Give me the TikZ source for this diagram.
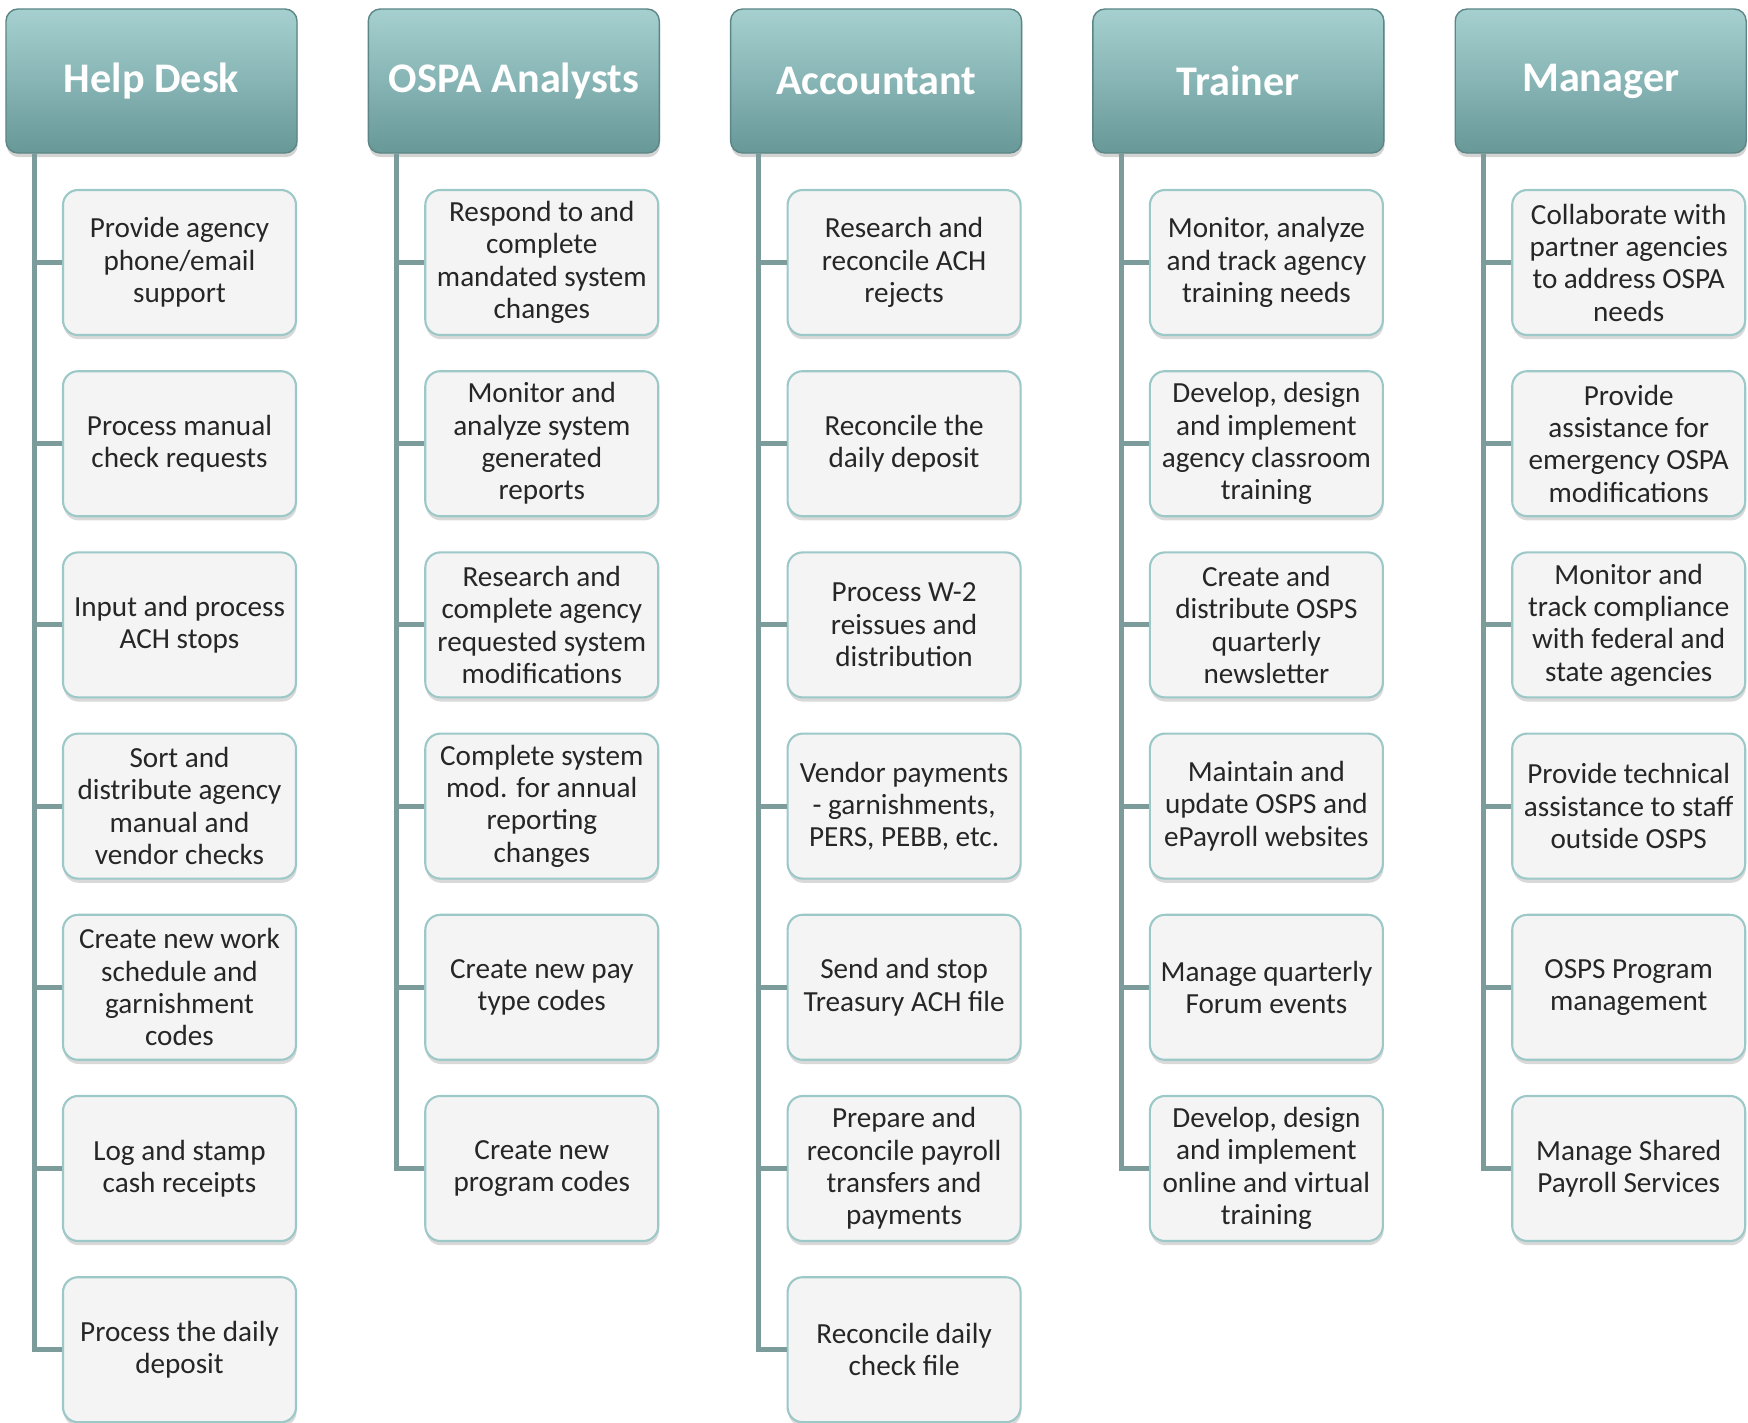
\documentclass[tikz,border=0pt]{standalone}
\usepackage{fontspec}
\setmainfont{Carlito}
\usetikzlibrary{shadows}

\definecolor{headtop}{RGB}{166,208,208}
\definecolor{headbot}{RGB}{104,152,152}
\definecolor{headline}{RGB}{92,134,134}
\definecolor{boxfill}{RGB}{244,244,244}
\definecolor{boxline}{RGB}{156,200,200}
\definecolor{branchcol}{RGB}{124,155,155}
\definecolor{txt}{RGB}{38,38,38}

\begin{document}
\begin{tikzpicture}[
            node distance = 1.812cm, % distance between task boxes
            semithick % line style
        ]

        \tikzstyle{header}=[
            draw = headline,
            thin,
            rounded corners = 1.2mm,
            top color = headtop,
            bottom color = headbot,
            minimum width = 2.91cm,
            minimum height = 1.44cm,
            text = white,
            font = \fontsize{12}{14}\selectfont\bfseries,
            drop shadow = {shadow xshift=0.2pt, shadow yshift=-1.2pt, opacity=0.35}
        ]

        \tikzstyle{task}=[
            draw = boxline,
            rounded corners = 1.5mm,
            fill = boxfill,
            minimum width = 2.33cm,
            minimum height = 1.45cm,
            inner sep = 1pt,
            align = center,
            text = txt,
            font = \fontsize{8.3}{9.2}\selectfont,
            drop shadow = {shadow xshift=0.2pt, shadow yshift=-1.2pt, opacity=0.3}
        ]

        \tikzstyle{branch}=[
            draw = branchcol,
            line width = 1.4pt
        ]

        \useasboundingbox (0,0) rectangle (17.48,-14.23);

        % column headers
        \node[header] (hdesk) at (1.515,-0.81) {Help Desk};
        \node[header] (ospa) [right of=hdesk, node distance=3.623cm] {OSPA Analysts};
        \node[header] (acct) [right of=ospa, node distance=3.623cm] {Accountant};
        \node[header] (trainer) [right of=acct, node distance=3.623cm] {Trainer};
        \node[header] (mgr) [right of=trainer, node distance=3.623cm] {Manager};

        % Help Desk
        \node[task] (hd1) at (1.795,-2.625) {Provide agency\\phone/email\\support};
        \node[task] (hd2) [below of=hd1] {Process manual\\check requests};
        \node[task] (hd3) [below of=hd2] {Input and process\\ACH stops};
        \node[task] (hd4) [below of=hd3] {Sort and\\distribute agency\\manual and\\vendor checks};
        \node[task] (hd5) [below of=hd4] {Create new work\\schedule and\\garnishment\\codes};
        \node[task] (hd6) [below of=hd5] {Log and stamp\\cash receipts};
        \node[task] (hd7) [below of=hd6] {Process the daily\\deposit};

        % OSPA Analysts
        \node[task] (oa1) at (5.418,-2.625) {Respond to and\\complete\\mandated system\\changes};
        \node[task] (oa2) [below of=oa1] {Monitor and\\analyze system\\generated\\reports};
        \node[task] (oa3) [below of=oa2] {Research and\\complete agency\\requested system\\modifications};
        \node[task] (oa4) [below of=oa3] {Complete system\\mod. for annual\\reporting\\changes};
        \node[task] (oa5) [below of=oa4] {Create new pay\\type codes};
        \node[task] (oa6) [below of=oa5] {Create new\\program codes};

        % Accountant
        \node[task] (ac1) at (9.041,-2.625) {Research and\\reconcile ACH\\rejects};
        \node[task] (ac2) [below of=ac1] {Reconcile the\\daily deposit};
        \node[task] (ac3) [below of=ac2] {Process W-2\\reissues and\\distribution};
        \node[task] (ac4) [below of=ac3] {Vendor payments\\- garnishments,\\PERS, PEBB, etc.};
        \node[task] (ac5) [below of=ac4] {Send and stop\\Treasury ACH file};
        \node[task] (ac6) [below of=ac5] {Prepare and\\reconcile payroll\\transfers and\\payments};
        \node[task] (ac7) [below of=ac6] {Reconcile daily\\check file};

        % Trainer
        \node[task] (tr1) at (12.664,-2.625) {Monitor, analyze\\and track agency\\training needs};
        \node[task] (tr2) [below of=tr1] {Develop, design\\and implement\\agency classroom\\training};
        \node[task] (tr3) [below of=tr2] {Create and\\distribute OSPS\\quarterly\\newsletter};
        \node[task] (tr4) [below of=tr3] {Maintain and\\update OSPS and\\ePayroll websites};
        \node[task] (tr5) [below of=tr4] {Manage quarterly\\Forum events};
        \node[task] (tr6) [below of=tr5] {Develop, design\\and implement\\online and virtual\\training};

        % Manager
        \node[task] (mg1) at (16.287,-2.625) {Collaborate with\\partner agencies\\to address OSPA\\needs};
        \node[task] (mg2) [below of=mg1] {Provide\\assistance for\\emergency OSPA\\modifications};
        \node[task] (mg3) [below of=mg2] {Monitor and\\track compliance\\with federal and\\state agencies};
        \node[task] (mg4) [below of=mg3] {Provide technical\\assistance to staff\\outside OSPS};
        \node[task] (mg5) [below of=mg4] {OSPS Program\\management};
        \node[task] (mg6) [below of=mg5] {Manage Shared\\Payroll Services};

        % branches
        \draw[branch] ([xshift=2.9mm]hdesk.south west) |- (hd1.west);
        \draw[branch] ([xshift=2.9mm]hdesk.south west) |- (hd2.west);
        \draw[branch] ([xshift=2.9mm]hdesk.south west) |- (hd3.west);
        \draw[branch] ([xshift=2.9mm]hdesk.south west) |- (hd4.west);
        \draw[branch] ([xshift=2.9mm]hdesk.south west) |- (hd5.west);
        \draw[branch] ([xshift=2.9mm]hdesk.south west) |- (hd6.west);
        \draw[branch] ([xshift=2.9mm]hdesk.south west) |- (hd7.west);

        \draw[branch] ([xshift=2.9mm]ospa.south west) |- (oa1.west);
        \draw[branch] ([xshift=2.9mm]ospa.south west) |- (oa2.west);
        \draw[branch] ([xshift=2.9mm]ospa.south west) |- (oa3.west);
        \draw[branch] ([xshift=2.9mm]ospa.south west) |- (oa4.west);
        \draw[branch] ([xshift=2.9mm]ospa.south west) |- (oa5.west);
        \draw[branch] ([xshift=2.9mm]ospa.south west) |- (oa6.west);

        \draw[branch] ([xshift=2.9mm]acct.south west) |- (ac1.west);
        \draw[branch] ([xshift=2.9mm]acct.south west) |- (ac2.west);
        \draw[branch] ([xshift=2.9mm]acct.south west) |- (ac3.west);
        \draw[branch] ([xshift=2.9mm]acct.south west) |- (ac4.west);
        \draw[branch] ([xshift=2.9mm]acct.south west) |- (ac5.west);
        \draw[branch] ([xshift=2.9mm]acct.south west) |- (ac6.west);
        \draw[branch] ([xshift=2.9mm]acct.south west) |- (ac7.west);

        \draw[branch] ([xshift=2.9mm]trainer.south west) |- (tr1.west);
        \draw[branch] ([xshift=2.9mm]trainer.south west) |- (tr2.west);
        \draw[branch] ([xshift=2.9mm]trainer.south west) |- (tr3.west);
        \draw[branch] ([xshift=2.9mm]trainer.south west) |- (tr4.west);
        \draw[branch] ([xshift=2.9mm]trainer.south west) |- (tr5.west);
        \draw[branch] ([xshift=2.9mm]trainer.south west) |- (tr6.west);

        \draw[branch] ([xshift=2.9mm]mgr.south west) |- (mg1.west);
        \draw[branch] ([xshift=2.9mm]mgr.south west) |- (mg2.west);
        \draw[branch] ([xshift=2.9mm]mgr.south west) |- (mg3.west);
        \draw[branch] ([xshift=2.9mm]mgr.south west) |- (mg4.west);
        \draw[branch] ([xshift=2.9mm]mgr.south west) |- (mg5.west);
        \draw[branch] ([xshift=2.9mm]mgr.south west) |- (mg6.west);

    \end{tikzpicture}
\end{document}
